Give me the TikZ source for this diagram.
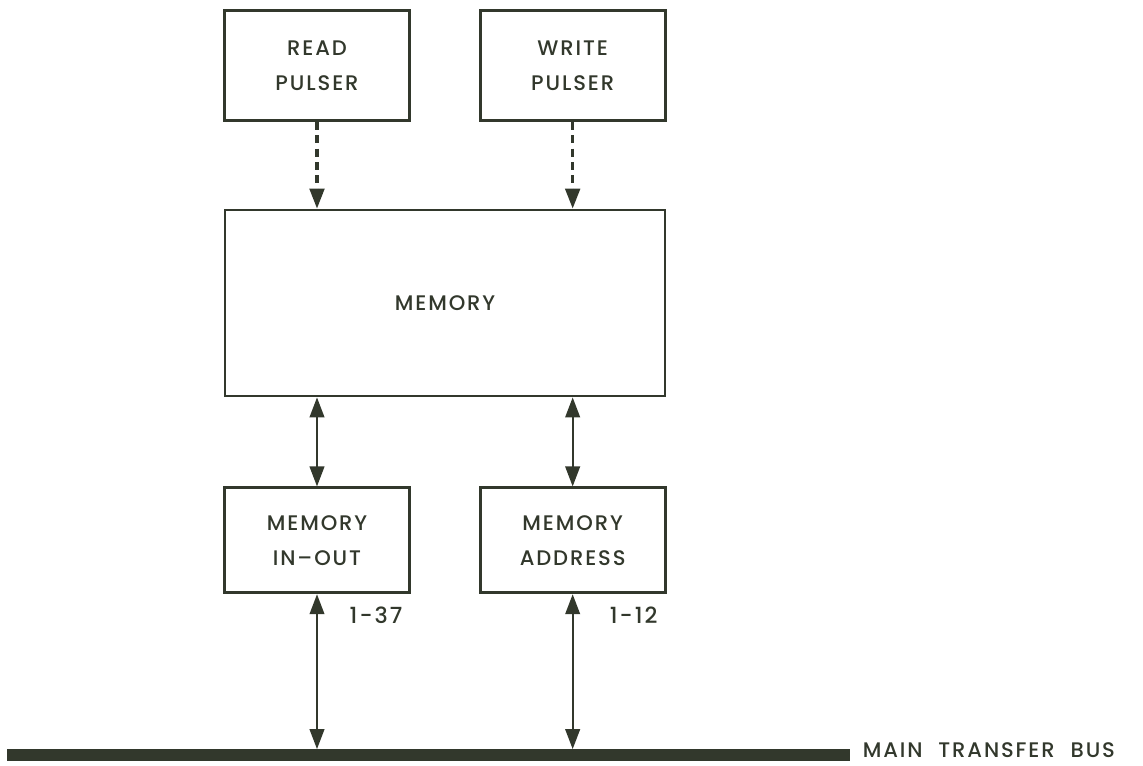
\documentclass[tikz,border=0pt]{standalone}
\usepackage{fontspec}
\setmainfont{Poppins}[UprightFont={* Medium}, LetterSpace=9]
\usetikzlibrary{arrows.meta,calc}
\definecolor{ink}{RGB}{50,56,44}
\tikzstyle{block}   = [rectangle, minimum width=5.55cm, minimum height=3.3cm, text centered, align=center, draw=ink, line width=2.4pt, fill=white, text=ink, font=\fontsize{18}{30}\selectfont]
\tikzstyle{bigblock} = [block, minimum width=13.2cm, minimum height=5.58cm]
\tikzstyle{busbar}  = [rectangle, minimum width=25.3cm, minimum height=0.36cm, fill=ink, inner sep=0pt]
\tikzstyle{tag}     = [text=ink, font=\fontsize{19}{19}\selectfont]
\tikzstyle{arrow}   = [ink, line width=1.7pt, -{Triangle[length=6mm, width=4.4mm]}]
\tikzstyle{dual}    = [arrow, {Triangle[length=6mm, width=4.4mm]}-{Triangle[length=6mm, width=4.4mm]}]
\tikzstyle{pulse}   = [arrow, line width=2.6pt, dash pattern=on 2.4mm off 1.6mm]

\begin{document}
\begin{tikzpicture}[node distance=7.12cm] % 纵向间距
            \useasboundingbox (0,0) rectangle (34.29,-22.98);
            % 1. 读脉冲器
            \node (read) [block] at (9.51,-1.97) {READ\\PULSER};
            % 2. 写脉冲器（右侧）
            \node (write) [block, right of=read, xshift=0.55cm] {WRITE\\PULSER};
            % 3. 存储器
            \node (memory) [bigblock, below of=read, xshift=3.84cm] {MEMORY};
            % 4. 存储器输入输出寄存器
            \node (inout) [block, minimum height=3.15cm, below of=memory, xshift=-3.84cm] {MEMORY\\IN--OUT};
            % 5. 存储器地址寄存器
            \node (address) [block, minimum height=3.15cm, right of=inout, xshift=0.55cm] {MEMORY\\ADDRESS};
            % 6. 主传输总线
            \node (bus) [busbar] at (12.86,-22.66) {};
            \node (buslabel) [anchor=west, inner sep=0pt, text=ink, font=\fontsize{18}{18}\selectfont] at ($(bus.east)+(0.36,0.15)$) {MAIN\hspace{0.75em}TRANSFER\hspace{0.75em}BUS};

            % 位数标注
            \node (bitsdata) [tag] at ($(inout.south)+(1.77,-0.63)$) {1-37};
            \node (bitsaddr) [tag] at ($(address.south)+(1.83,-0.63)$) {1-12};

            % 脉冲器 → 存储器
            \draw [pulse] (read.south) -- (read.south |- memory.north);
            \draw [pulse] (write.south) -- (write.south |- memory.north);

            % 存储器 ↔ 寄存器
            \draw [dual] (inout.north |- memory.south) -- (inout.north);
            \draw [dual] (address.north |- memory.south) -- (address.north);

            % 寄存器 ↔ 总线
            \draw [dual] (inout.south) -- (inout.south |- bus.north);
            \draw [dual] (address.south) -- (address.south |- bus.north);

        \end{tikzpicture}
\end{document}
